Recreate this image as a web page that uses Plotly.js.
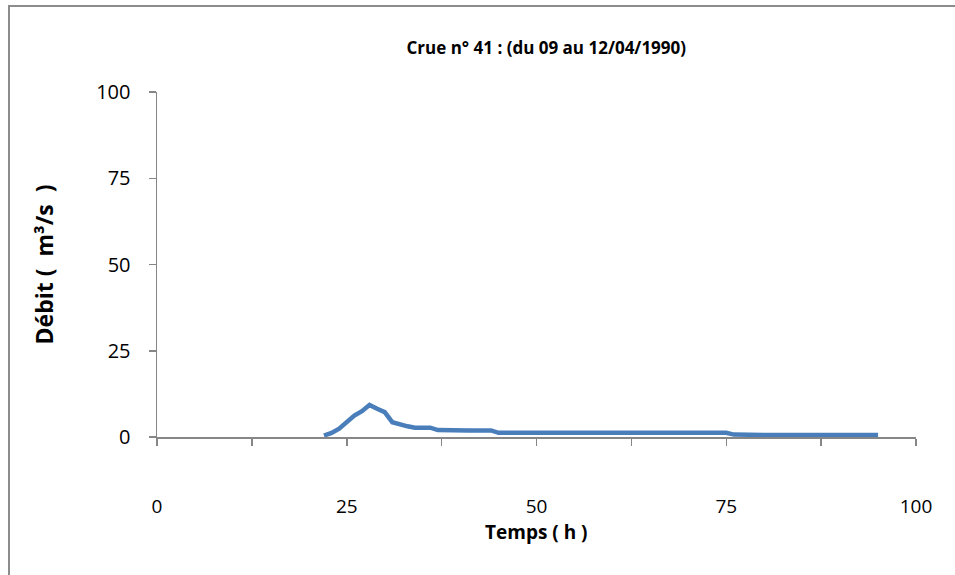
<!DOCTYPE html>
<html>
<head>
<meta charset="utf-8">
<script src="https://cdn.plot.ly/plotly-3.0.1.min.js"></script>
<style>
html,body{margin:0;padding:0;overflow:hidden;background:#fff;}
#chart{width:955px;height:575px;}
#frame{position:absolute;left:8px;top:5px;width:1000px;height:1000px;border:2px solid #8c8c8c;pointer-events:none;}
</style>
</head>
<body>
<div id="chart"></div>
<div id="frame"></div>
<script>
const hours = [22,23,24,25,26,27,28,29,30,31,32,33,34,35,36,37,38,39,40,41,42,43,44,45,46,47,48,49,50,51,52,53,54,55,56,57,58,59,60,61,62,63,64,65,66,67,68,69,70,71,72,73,74,75,76,77,78,79,80,81,82,83,84,85,86,87,88,89,90,91,92,93,94,95];
const debit = [0.4,1.2,2.4,4.5,6.2,7.5,9.3,8.2,7.2,4.3,3.6,3.1,2.7,2.7,2.7,2.0,1.9,1.9,1.9,1.9,1.9,1.9,1.9,1.2,1.2,1.2,1.2,1.2,1.2,1.2,1.2,1.2,1.2,1.2,1.2,1.2,1.2,1.2,1.2,1.2,1.2,1.2,1.2,1.2,1.2,1.2,1.2,1.2,1.2,1.2,1.2,1.2,1.2,1.2,0.7,0.6,0.6,0.6,0.6,0.6,0.6,0.6,0.6,0.6,0.6,0.6,0.6,0.6,0.6,0.6,0.6,0.6,0.6,0.6];
const xTickVals = [0,12.5,25,37.5,50,62.5,75,87.5,100];
const xTickText = ['0','','25','','50','','75','','100'];
const yTickVals = [0,25,50,75,100];

const font = "Open Sans, Noto Sans, sans-serif";
const axisCol = '#868686';

Plotly.newPlot('chart', [{
  x: hours, y: debit, type: 'scatter', mode: 'lines',
  line: {color: '#4a7ebb', width: 4.5},
  showlegend: false, hoverinfo: 'x+y'
}], {
  width: 955, height: 575,
  paper_bgcolor: '#ffffff', plot_bgcolor: '#ffffff',
  margin: {l: 157, r: 39, t: 92, b: 138},
  title: {text: '<b>Crue n° 41 : (du 09 au 12/04/1990)</b>', font: {family: font, size: 17, color: '#000'},
          x: 0.572, xref: 'container', xanchor: 'center', y: 0.917, yref: 'container', yanchor: 'middle'},
  xaxis: {range: [0, 100], tickmode: 'array', tickvals: xTickVals, ticktext: xTickText,
          showgrid: false, zeroline: false, showline: true, linecolor: axisCol, linewidth: 1.5,
          ticks: 'outside', ticklen: 7, tickwidth: 1.5, tickcolor: axisCol,
          ticklabelstandoff: 45,
          tickfont: {family: font, size: 19, color: '#000'}},
  yaxis: {range: [0, 100], tickmode: 'array', tickvals: yTickVals,
          showgrid: false, zeroline: false, showline: true, linecolor: axisCol, linewidth: 1.5,
          ticks: 'outside', ticklen: 7, tickwidth: 1.5, tickcolor: axisCol,
          ticklabelstandoff: 14,
          tickfont: {family: font, size: 20, color: '#000'},
          title: {text: '<b>Débit (\u00a0\u00a0m³/s\u00a0\u00a0)</b>', font: {family: font, size: 23, color: '#000'}, standoff: 36}},
  annotations: [{text: '<b>Temps ( h )</b>', xref: 'paper', yref: 'paper', x: 0.5, y: -0.276,
                 xanchor: 'center', yanchor: 'middle', showarrow: false,
                 font: {family: font, size: 19, color: '#000'}}]
}, {displayModeBar: false, staticPlot: true});
</script>
</body>
</html>
